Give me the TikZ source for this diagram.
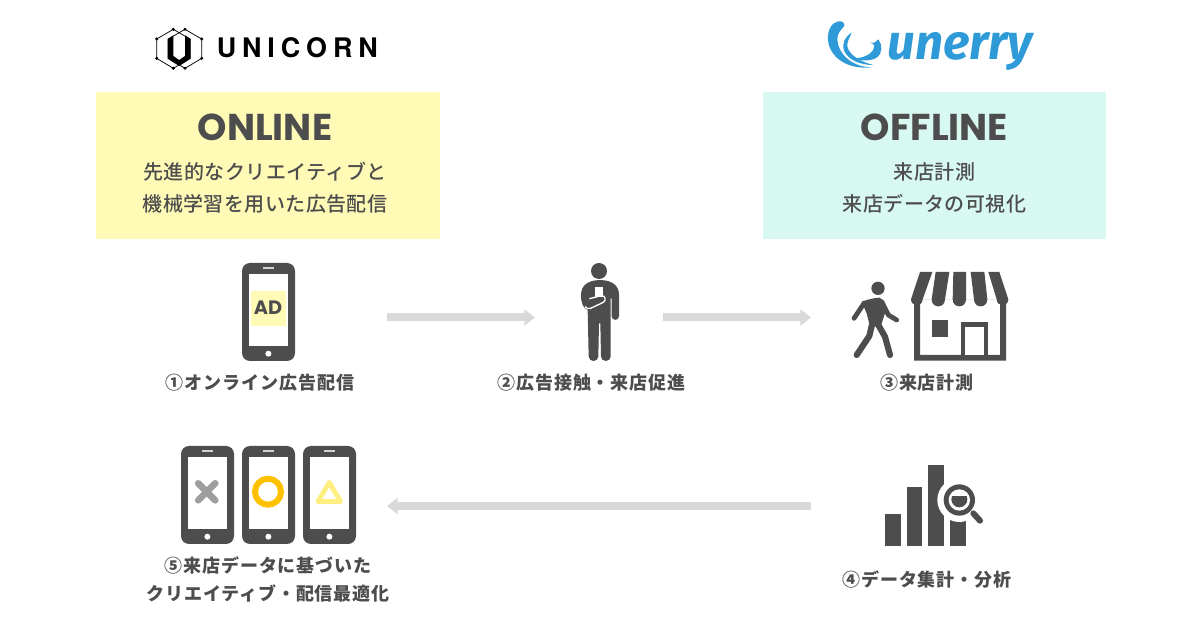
\documentclass[tikz,border=0pt]{standalone}
\usepackage{fontspec}
\usetikzlibrary{arrows.meta}
\setmainfont{Noto Sans CJK JP}
\newfontfamily\jplabel{Noto Sans CJK JP}[LetterSpace=5]
\newfontfamily\jpbody{Noto Sans CJK JP Medium}[LetterSpace=2.2]
\newfontfamily\jptitle{Poppins}
\newfontfamily\logoA{TeX Gyre Heros}[LetterSpace=22]
\newfontfamily\logoB{Fira Sans}
\definecolor{ink}{HTML}{4D4D4D}
\definecolor{panelY}{HTML}{FFFBB7}
\definecolor{panelM}{HTML}{D8F8F2}
\definecolor{arrowG}{HTML}{D9D9D9}
\definecolor{logoblue}{HTML}{2E9BD8}
\definecolor{ringO}{HTML}{FFC000}
\definecolor{triY}{HTML}{FFEE80}
\tikzset{
  panelbox/.style={inner sep=0pt,minimum width=258pt,minimum height=110.25pt,anchor=north west},
  titletext/.style={text=ink,font=\jptitle\bfseries\fontsize{28}{34}\selectfont},
  bodytext/.style={text=ink,align=center,font=\jpbody\fontsize{15}{24}\selectfont},
  labeltext/.style={text=ink,align=center,font=\jplabel\bfseries\fontsize{13.5}{21}\selectfont},
  flowarrow/.style={draw=arrowG,line width=6pt,-{Triangle[length=8pt,width=12pt]}},
  zoomed/.style={x=0.25pt,y=-0.25pt},
  phoneicon/.pic={
    \fill[ink,rounded corners=6pt] (0,0) rectangle (53,98);
    \fill[white] (6.7,11) rectangle (46,82.7);
    \fill[white!75!ink] (21,4) rectangle (32,6);
    \fill[white] (26.4,90.7) circle (3);
  }
}
\begin{document}
\begin{tikzpicture}[x=0.75pt,y=-0.75pt]
\useasboundingbox (0,0) rectangle (1200,630);
\fill[white] (0,0) rectangle (1200,630);

% panels
\node[panelbox,fill=panelY] (online) at (96,92) {};
\node[panelbox,minimum width=257.4pt,fill=panelM] (offline) at (763,92) {};
\node[titletext] (t1) at (265,127.5) {ONLINE};
\node[titletext] (t2) at (934.5,127.5) {OFFLINE};
\node[bodytext] (b1) at (265,187.5) {先進的なクリエイティブと\\機械学習を用いた広告配信};
\node[bodytext] (b2) at (934.5,187.5) {来店計測\\来店データの可視化};

% UNICORN logo
\begin{scope}[shift={(130,10)},zoomed]
  \draw[black,line width=0.55pt] (130,58)--(180,87)--(180,145)--(130,175)--(80,145)--(80,87)--cycle;
  \draw[black,line width=0.55pt] (165,58)--(215,87)--(215,145)--(165,175)--(115,145)--(115,87)--cycle;
  \fill[black] (113,87)--(130,76)--(130,138)--(147.5,150)--(165,138)--(165,76)--(182,87)--(182,146)--(147.5,168)--(113,146)--cycle;
  \foreach \p in {(130,58),(165,58),(80,87),(215,87),(80,145),(215,145),(130,175),(165,175)}
    \fill[black] \p circle (5);
\end{scope}
\node[inner sep=0pt,anchor=base west,text=black,font=\logoA\bfseries\fontsize{20.2}{24}\selectfont] (unicorn) at (216.5,58) {UNICORN};

% unerry logo
\begin{scope}[shift={(810,10)},zoomed]
  \fill[logoblue] (85,34) .. controls (65,38) and (52,60) .. (54,90)
     .. controls (58,140) and (110,180) .. (185,172)
     .. controls (130,172) and (85,135) .. (82,90)
     .. controls (80,70) and (95,58) .. (103,48)
     .. controls (105,38) and (95,32) .. (85,34) -- cycle;
  \fill[logoblue] (125,68) .. controls (105,80) and (95,100) .. (102,122)
     .. controls (115,150) and (150,165) .. (190,165)
     .. controls (150,155) and (118,135) .. (112,110)
     .. controls (110,95) and (120,82) .. (125,68) -- cycle;
  \fill[logoblue] (205,88) .. controls (218,105) and (218,130) .. (200,143)
     .. controls (180,155) and (150,152) .. (128,146)
     .. controls (155,145) and (180,135) .. (188,122)
     .. controls (195,110) and (195,100) .. (180,98)
     .. controls (192,100) and (200,96) .. (205,88) -- cycle;
\end{scope}
\node[inner sep=0pt,anchor=base west,text=logoblue,font=\logoB\bfseries\itshape\fontsize{37}{44}\selectfont] (unerry) at (887,60) {unerry};

% phone with ad
\pic at (242,263) {phoneicon};
\node[fill=panelY,minimum width=26.25pt,minimum height=26.5pt,inner sep=0pt] (adbox) at (268.5,308.5) {};
\node[text=ink,inner sep=0pt,font=\jptitle\bfseries\fontsize{14.5}{18}\selectfont] (ad) at (268,308) {AD};
\node[labeltext] (l1) at (260,382.5) {①オンライン広告配信};

% person
\begin{scope}[shift={(520,255)},zoomed]
  \fill[ink] (237,48) circle (24);
  \fill[ink] (183,120) .. controls (183,90) and (205,76) .. (240,75)
     .. controls (275,76) and (297,90) .. (297,120) -- (297,184)
     .. controls (297,198) and (275,198) .. (275,184) -- (275,130) -- (272,130) -- (272,305)
     .. controls (272,322) and (243,322) .. (243,305) -- (241,205) -- (237,205) -- (235,305)
     .. controls (235,322) and (206,322) .. (206,305) -- (203,165)
     .. controls (190,160) and (183,145) .. (183,120) -- cycle;
  \fill[white] (226,97) rectangle (250,125);
  \draw[white,line width=1pt,line join=round] (208,131) -- (245,122) .. controls (255,122) and (260,135) .. (250,142) -- (212,160) .. controls (205,163) and (200,160) .. (195,155);
\end{scope}
\node[labeltext] (l2) at (591.5,382.5) {②広告接触・来店促進};

% walker
\begin{scope}[shift={(840,260)},zoomed]
  \fill[ink] (114,85) circle (20);
  \draw[ink,line width=3.6pt,line cap=round,line join=round] (72,130) -- (42,175);
  \draw[ink,line width=3.6pt,line cap=round,line join=round] (125,125) -- (145,165) -- (170,180);
  \fill[ink] (65,125) .. controls (85,118) and (105,113) .. (120,113) -- (135,130) -- (138,150) -- (122,200) -- (90,200) -- (80,160) -- cycle;
  \draw[ink,line width=4.6pt,line cap=round,line join=round] (115,195) -- (135,230) -- (150,285);
  \draw[ink,line width=4.6pt,line cap=round,line join=round] (97,190) -- (88,228) -- (50,285);
\end{scope}

% store
\begin{scope}[shift={(840,260)},zoomed]
  \fill[ink,even odd rule] (222,120) rectangle (498,302) (240,120) rectangle (480,285);
  \fill[ink] (362,187) rectangle (445,285);
  \fill[white] (375,202) rectangle (432,285);
  \fill[ink] (275,180) rectangle (325,230);
  \fill[ink] (240,36) -- (277,36) -- (248,118) .. controls (248,141) and (213,141) .. (213,118) -- cycle;
  \fill[ink] (287,36) -- (328,36) -- (315,118) .. controls (315,146) and (275,146) .. (275,118) -- cycle;
  \fill[ink] (340,36) -- (378,36) -- (378,118) .. controls (378,146) and (338,146) .. (338,118) -- cycle;
  \fill[ink] (392,36) -- (433,36) -- (442,118) .. controls (442,146) and (402,146) .. (402,118) -- cycle;
  \fill[ink] (445,36) -- (478,36) -- (505,118) .. controls (505,141) and (470,141) .. (470,118) -- cycle;
\end{scope}
\node[labeltext] (l3) at (927,382.5) {③来店計測};

% chart
\begin{scope}[shift={(870,455)},zoomed]
  \fill[ink] (45,178) rectangle (92,272);
  \fill[ink] (110,95) rectangle (157,272);
  \fill[ink] (175,30) rectangle (222,272);
  \fill[ink] (240,190) rectangle (288,272);
  \fill[white] (268,135) circle (66);
  \draw[white,line width=9pt,line cap=round] (310,175) -- (330,197);
  \draw[ink,line width=4.5pt,line cap=round] (310,175) -- (330,197);
  \fill[ink] (268,135) circle (47);
  \fill[white] (268,135) circle (32);
  \begin{scope}
    \clip (230,125) rectangle (306,175);
    \fill[ink] (268,133) circle (24);
  \end{scope}
\end{scope}
\node[labeltext] (l4) at (927,579.5) {④データ集計・分析};

% three phones
\pic at (181,446) {phoneicon};
\pic at (242,446) {phoneicon};
\pic at (303,446) {phoneicon};
\draw[black!38,line width=5pt,line cap=round] (198.2,483.3) -- (215.2,500.3) (215.2,483.3) -- (198.2,500.3);
\draw[ringO,line width=4.5pt] (268,491.7) circle (13);
\draw[triY,line width=3.6pt,line join=round] (329.3,482.5) -- (340.5,501.5) -- (318,501.5) -- cycle;
\node[labeltext] (l5) at (268,579.5) {⑤来店データに基づいた\\クリエイティブ・配信最適化};

% arrows
\coordinate (a1s) at (387,317.5); \coordinate (a1e) at (535,317.5);
\coordinate (a2s) at (663,317.5); \coordinate (a2e) at (811,317.5);
\coordinate (a3s) at (811,506); \coordinate (a3e) at (387,506);
\draw[flowarrow] (a1s) -- (a1e);
\draw[flowarrow] (a2s) -- (a2e);
\draw[flowarrow] (a3s) -- (a3e);
\end{tikzpicture}
\end{document}
